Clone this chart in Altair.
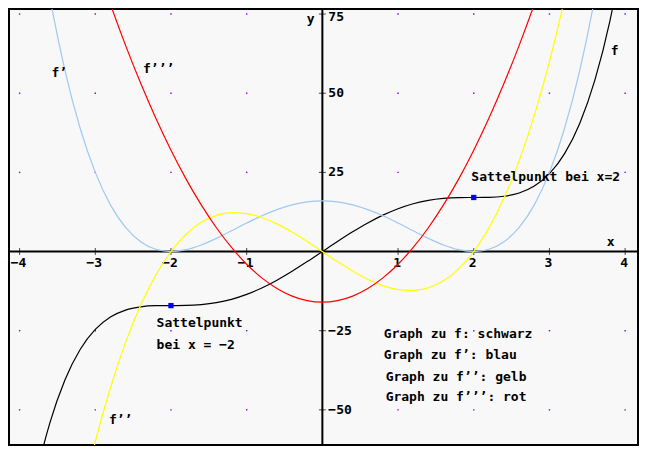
import itertools
import altair as alt
import pandas as pd

# ---------------- data ----------------
x_vals = [-4.0, -3.8, -3.6, -3.4, -3.2, -3.0, -2.8, -2.6, -2.4, -2.2, -2.0,
          -1.8, -1.6, -1.4, -1.2, -1.0, -0.8, -0.6, -0.4, -0.2, 0.0,
          0.2, 0.4, 0.6, 0.8, 1.0, 1.2, 1.4, 1.6, 1.8, 2.0,
          2.2, 2.4, 2.6, 2.8, 3.0, 3.2, 3.4, 3.6, 3.8, 4.0]

f_vals = [-98.13, -72.95, -54.12, -40.46, -30.93, -24.60, -20.68, -18.49, -17.46, -17.11, -17.07,
          -17.03, -16.77, -16.16, -15.09, -13.53, -11.50, -9.04, -6.23, -3.18, 0.0,
          3.18, 6.23, 9.04, 11.50, 13.53, 15.09, 16.16, 16.77, 17.03, 17.07,
          17.11, 17.46, 18.49, 20.68, 24.60, 30.93, 40.46, 54.12, 72.95, 98.13]

f1_vals = [144.00, 108.99, 80.28, 57.15, 38.94, 25.00, 14.75, 7.62, 3.10, 0.71, 0.0,
           0.58, 2.07, 4.16, 6.55, 9.00, 11.29, 13.25, 14.75, 15.68, 16.00,
           15.68, 14.75, 13.25, 11.29, 9.00, 6.55, 4.16, 2.07, 0.58, 0.0,
           0.71, 3.10, 7.62, 14.75, 25.00, 38.94, 57.15, 80.28, 108.99, 144.00]

f2_vals = [-192.00, -158.69, -129.02, -102.82, -79.87, -60.00, -43.01, -28.70, -16.90, -7.39, 0.0,
           5.47, 9.22, 11.42, 12.29, 12.00, 10.75, 8.74, 6.14, 3.17, 0.0,
           -3.17, -6.14, -8.74, -10.75, -12.00, -12.29, -11.42, -9.22, -5.47, 0.0,
           7.39, 16.90, 28.70, 43.01, 60.00, 79.87, 102.82, 129.02, 158.69, 192.00]

f3_vals = [176.00, 157.28, 139.52, 122.72, 106.88, 92.00, 78.08, 65.12, 53.12, 42.08, 32.00,
           22.88, 14.72, 7.52, 1.28, -4.00, -8.32, -11.68, -14.08, -15.52, -16.00,
           -15.52, -14.08, -11.68, -8.32, -4.00, 1.28, 7.52, 14.72, 22.88, 32.00,
           42.08, 53.12, 65.12, 78.08, 92.00, 106.88, 122.72, 139.52, 157.28, 176.00]

series_names = ["f", "f1", "f2", "f3"]
series_colors = ["#000000", "#a0c8f0", "#ffff00", "#ff0000"]

x_ticks = [-4, -3, -2, -1, 1, 2, 3, 4]
x_tick_labels = ["\u22124", "\u22123", "\u22122", "\u22121", "1", "2", "3", "4"]
y_ticks = [75, 50, 25, -25, -50]
y_tick_labels = ["75", "50", "25", "\u221225", "\u221250"]

grid_x = [-4, -3, -2, -1, 0, 1, 2, 3, 4]
grid_y = [75, 50, 25, -25, -50]

saddle_x = [-2, 2]
saddle_y = [-17.07, 17.07]

ann_text = ["f\u2019", "f\u2019\u2019\u2019", "f", "f\u2019\u2019",
            "Sattelpunkt bei x=2", "Sattelpunkt", "bei x = \u22122",
            "Graph zu f: schwarz", "Graph zu f\u2019: blau",
            "Graph zu f\u2019\u2019: gelb", "Graph zu f\u2019\u2019\u2019: rot",
            "x", "y"]
ann_x = [-3.58, -2.37, 3.81, -2.82,
         1.968, -2.19, -2.19,
         0.81, 0.81, 0.836, 0.836,
         3.756, -0.206]
ann_y = [56.3, 57.5, 63.4, -53.1,
         23.5, -22.7, -29.4,
         -26.0, -32.7, -39.7, -45.8,
         3.1, 73.5]

# ---------------- tables ----------------
curves = pd.DataFrame({
    "x": x_vals * 4,
    "y": f_vals + f1_vals + f2_vals + f3_vals,
    "series": sum([[s] * len(x_vals) for s in series_names], []),
})
xt = pd.DataFrame({"x": x_ticks, "label": x_tick_labels})
xt["zero"] = 0
yt = pd.DataFrame({"y": y_ticks, "label": y_tick_labels})
yt["zero"] = 0
origin = pd.DataFrame({"zero": [0]})
grid = pd.DataFrame(list(itertools.product(grid_x, grid_y)), columns=["x", "y"])
saddle = pd.DataFrame({"x": saddle_x, "y": saddle_y})
ann = pd.DataFrame({"text": ann_text, "x": ann_x, "y": ann_y})

xs = alt.Scale(domain=[-4.14, 4.17], nice=False, zero=False)
ys = alt.Scale(domain=[-61.1, 76.6], nice=False, zero=False)
FONT = "DejaVu Sans Mono"


def X(f="x:Q"):
    return alt.X(f, scale=xs, axis=None)


def Y(f="y:Q"):
    return alt.Y(f, scale=ys, axis=None)


dots = alt.Chart(grid).mark_square(size=2, color="#8800ff", opacity=1).encode(x=X(), y=Y())

xaxis = alt.Chart(origin).mark_rule(color="black", strokeWidth=2).encode(y=Y("zero:Q"))
yaxis = alt.Chart(origin).mark_rule(color="black", strokeWidth=2).encode(x=X("zero:Q"))

xticks = alt.Chart(xt).mark_tick(orient="vertical", size=7, thickness=1, color="black").encode(
    x=X(), y=Y("zero:Q"))
yticks = alt.Chart(yt).mark_tick(orient="horizontal", size=7, thickness=1, color="black").encode(
    y=Y(), x=X("zero:Q"))

xlabels = alt.Chart(xt).mark_text(font=FONT, fontWeight="bold", fontSize=13, align="center",
                                  baseline="middle", dy=11, dx=-1, color="black").encode(
    x=X(), y=Y("zero:Q"), text="label:N")
ylabels = alt.Chart(yt).transform_filter("datum.y < 70").mark_text(
    font=FONT, fontWeight="bold", fontSize=13, align="left",
    baseline="middle", dx=6, color="black").encode(
    y=Y(), x=X("zero:Q"), text="label:N")
ylabel_top = alt.Chart(yt).transform_filter("datum.y > 70").mark_text(
    font=FONT, fontWeight="bold", fontSize=13, align="left",
    baseline="middle", dx=6, dy=3, color="black").encode(
    y=Y(), x=X("zero:Q"), text="label:N")

lines = alt.Chart(curves).mark_line(clip=True, strokeWidth=1.2, interpolate="monotone").encode(
    x=X(), y=Y(),
    color=alt.Color("series:N", scale=alt.Scale(domain=series_names, range=series_colors), legend=None),
    detail="series:N",
)

points = alt.Chart(saddle).mark_square(size=28, color="#0000ff", opacity=1).encode(x=X(), y=Y())

texts = alt.Chart(ann).mark_text(font=FONT, fontWeight="bold", fontSize=13, align="left",
                                 baseline="middle", color="black").encode(
    x=X(), y=Y(), text="text:N")

chart = alt.layer(dots, xaxis, yaxis, xticks, yticks, xlabels, ylabels, ylabel_top,
                  lines, points, texts).properties(
    width=629, height=436, padding=1, autosize="none", background="white"
).configure_view(stroke="black", strokeWidth=2, fill="#f8f8f8")

chart.save("out.html", embed_options={"renderer": "svg", "actions": False})
